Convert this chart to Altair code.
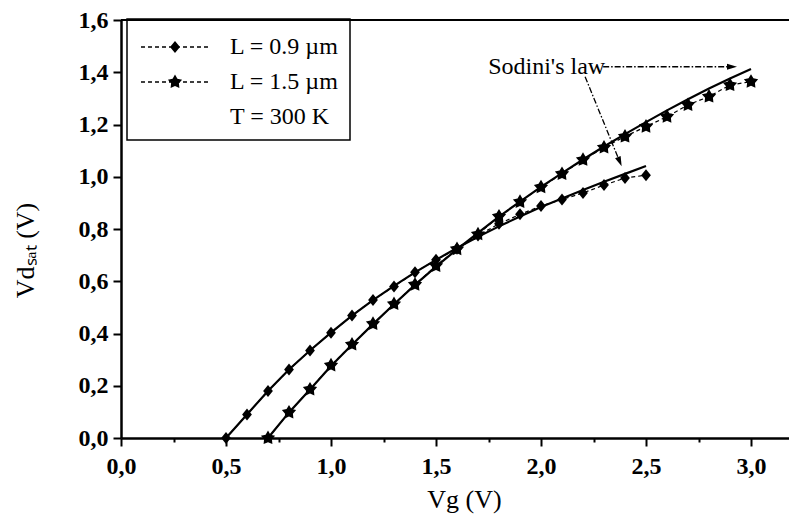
import math
import altair as alt
import pandas as pd

# ---------------- data ----------------
vg_09 = [0.5, 0.6, 0.7, 0.8, 0.9, 1.0, 1.1, 1.2, 1.3, 1.4, 1.5, 1.6, 1.7, 1.8, 1.9, 2.0, 2.1, 2.2, 2.3, 2.4, 2.5]
vd_09 = [0.0, 0.09, 0.18, 0.262, 0.335, 0.403, 0.469, 0.528, 0.580, 0.634, 0.682, 0.724, 0.775, 0.820, 0.856, 0.888, 0.913, 0.938, 0.968, 0.995, 1.006]
sodini_09 = [0.0, 0.09, 0.18, 0.262, 0.335, 0.403, 0.468, 0.528, 0.582, 0.634, 0.682, 0.727, 0.770, 0.810, 0.848, 0.884, 0.917, 0.949, 0.981, 1.011, 1.041]

vg_15 = [0.7, 0.8, 0.9, 1.0, 1.1, 1.2, 1.3, 1.4, 1.5, 1.6, 1.7, 1.8, 1.9, 2.0, 2.1, 2.2, 2.3, 2.4, 2.5, 2.6, 2.7, 2.8, 2.9, 3.0]
vd_15 = [0.0, 0.098, 0.186, 0.278, 0.358, 0.437, 0.513, 0.587, 0.659, 0.723, 0.780, 0.848, 0.904, 0.960, 1.011, 1.065, 1.112, 1.154, 1.192, 1.230, 1.275, 1.307, 1.351, 1.364]
sodini_15 = [0.0, 0.098, 0.186, 0.276, 0.357, 0.436, 0.512, 0.586, 0.656, 0.722, 0.785, 0.847, 0.905, 0.961, 1.014, 1.066, 1.116, 1.163, 1.209, 1.254, 1.297, 1.338, 1.376, 1.412]

series_names = ["L = 0.9 µm", "L = 1.5 µm"]
legend_entries = ["L = 0.9 µm", "L = 1.5 µm", "T = 300 K"]

x_ticks = [0.0, 0.25, 0.5, 0.75, 1.0, 1.25, 1.5, 1.75, 2.0, 2.25, 2.5, 2.75, 3.0]
y_ticks = [round(i * 0.1, 1) for i in range(17)]

note_text = ["Sodini's law"]
note_x = [2.027]
note_y = [1.395]
arrow_x = [2.296, 2.21]
arrow_y = [1.421, 1.383]
arrow_x2 = [2.9095, 2.375]
arrow_y2 = [1.421, 1.0575]
arrow_angle = [0, 67.8]

X_MAX = 668 / 210

# ---------------- marker paths (style) ----------------
def fmt(v):
    return f"{v:.3f}".rstrip("0").rstrip(".") if abs(v) > 1e-9 else "0"

def diamond_path(cx=0.0, h=0.8, w=0.65):
    return f"M{fmt(cx)},{fmt(-h)}L{fmt(cx + w)},0L{fmt(cx)},{fmt(h)}L{fmt(cx - w)},0Z"

def star_path(cx=0.0, R=1.0, r=0.55):
    pts = []
    for k in range(10):
        a = -math.pi / 2 + k * math.pi / 5
        rad = R if k % 2 == 0 else r
        pts.append((cx + rad * math.cos(a), rad * math.sin(a)))
    return "M" + "L".join(f"{fmt(x)},{fmt(y)}" for x, y in pts) + "Z"

def dashes(x0, x1, dash, gap, half):
    out = []
    x = x0
    while x < x1:
        xe = min(x + dash, x1)
        out.append(f"M{fmt(x)},{fmt(-half)}L{fmt(xe)},{fmt(-half)}L{fmt(xe)},{fmt(half)}L{fmt(x)},{fmt(half)}Z")
        x = xe + gap
    return "".join(out)

# legend symbol: unit = 17 px (symbolSize 1156)
U = 17.0
leg_line = dashes(-2.0, 2.0, 4 / U, 3 / U, 0.65 / U)
leg_diamond = leg_line + diamond_path(0, 6 / U, 5 / U)
leg_star = leg_line + star_path(0, 7.5 / U, 4.1 / U)
leg_none = "M0,0L0,0"

arrow_head = "M1,0L-1,-0.6L-1,0.6Z"

# ---------------- tables ----------------
pts = pd.DataFrame(
    {"vg": vg_09 + vg_15, "vd": vd_09 + vd_15,
     "series": [series_names[0]] * len(vg_09) + [series_names[1]] * len(vg_15)}
)
sod = pd.DataFrame(
    {"vg": vg_09 + vg_15, "vd": sodini_09 + sodini_15,
     "series": [series_names[0]] * len(vg_09) + [series_names[1]] * len(vg_15)}
)
leg = pd.DataFrame({"entry": legend_entries})
note = pd.DataFrame({"vg": note_x, "vd": note_y, "t": note_text})
arrows = pd.DataFrame({"vg": arrow_x, "vd": arrow_y, "vg2": arrow_x2, "vd2": arrow_y2})
heads = pd.DataFrame({"vg": arrow_x2, "vd": arrow_y2, "ang": arrow_angle})

FONT = "Liberation Serif"

def lbl(mult):
    m = f"abs(datum.value*{mult} - round(datum.value*{mult})) < 0.001"
    return m, f"{m} ? replace(format(datum.value, '.1f'), '.', ',') : ''"

xm, xlab = lbl(2)
ym, ylab = lbl(5)

X = alt.X(
    "vg:Q",
    scale=alt.Scale(domain=[0, X_MAX], nice=False, zero=False),
    axis=alt.Axis(
        values=x_ticks, labelExpr=xlab, labelOverlap=False, labelFlush=False,
        tickSize={"condition": {"test": xm, "value": 8}, "value": 4},
        title="Vg (V)", titleX=343, titleY=69, titleBaseline="alphabetic",
        labelPadding=8, grid=False,
    ),
)
Y = alt.Y(
    "vd:Q",
    scale=alt.Scale(domain=[0, 1.6], nice=False, zero=False),
    axis=alt.Axis(
        values=y_ticks, labelExpr=ylab, labelOverlap=False, labelFlush=False,
        tickSize={"condition": {"test": ym, "value": 8}, "value": 4},
        title="Vdₛₐₜ (V)", titleX=-88, titleY=230, titleBaseline="alphabetic",
        labelPadding=5, grid=False,
    ),
)

data_lines = alt.Chart(pts).mark_line(color="black", strokeWidth=1.2, strokeDash=[4, 3]).encode(
    x=X, y=Y, detail="series:N"
)
sodini_lines = alt.Chart(sod).mark_line(color="black", strokeWidth=2.2).encode(
    x=X, y=Y, detail="series:N"
)
markers = alt.Chart(pts).mark_point(filled=True, color="black", opacity=1, size=225, strokeWidth=0).encode(
    x=X, y=Y,
    shape=alt.Shape("series:N", scale=alt.Scale(domain=series_names, range=[diamond_path(), star_path()]), legend=None),
)
legend_layer = alt.Chart(leg).mark_point(filled=True, color="black", opacity=1, size=0).encode(
    shape=alt.Shape(
        "entry:N",
        scale=alt.Scale(domain=legend_entries, range=[leg_diamond, leg_star, leg_none]),
        legend=alt.Legend(
            title=None, orient="none", legendX=6, legendY=-1,
            strokeColor="black", padding=11, symbolSize=1156, symbolStrokeWidth=0,
            symbolFillColor="black", symbolOffset=20, labelOffset=38, rowPadding=6,
            labelFont=FONT, labelFontSize=24, labelColor="black",
        ),
    )
)
top_rule = alt.Chart(pts).mark_rule(color="black", strokeWidth=2).encode(y=alt.datum(1.6))

arrow_lines = alt.Chart(arrows).mark_rule(color="black", strokeWidth=1.3, strokeDash=[6, 2, 1.5, 2]).encode(
    x=X, y=Y, x2="vg2:Q", y2="vd2:Q"
)
arrow_heads = alt.Chart(heads).mark_point(filled=True, color="black", opacity=1, size=100, shape=arrow_head, strokeWidth=0).encode(
    x=X, y=Y,
    angle=alt.Angle("ang:Q", scale=None),
)
note_layer = alt.Chart(note).mark_text(font=FONT, fontSize=24, color="black", align="center", baseline="alphabetic").encode(
    x=X, y=Y, text="t:N"
)

chart = (
    alt.layer(top_rule, sodini_lines, data_lines, markers, arrow_lines, arrow_heads, note_layer, legend_layer)
    .resolve_scale(shape="independent")
    .properties(
        width=668, height=418,
        padding={"left": 113, "top": 12, "right": 0, "bottom": 80},
        autosize=alt.AutoSizeParams(type="none"),
        background="white",
    )
    .configure_view(stroke=None)
    .configure_axis(
        domainColor="black", domainWidth=2.5, tickColor="black", tickWidth=2,
        labelFont=FONT, labelFontSize=24, labelFontWeight="bold", labelColor="black",
        titleFont=FONT, titleFontSize=26, titleFontWeight="normal", titleColor="black",
    )
    .configure_legend(strokeWidth=1.5)
)

chart.save("out.html", embed_options={"renderer": "svg", "actions": False})
